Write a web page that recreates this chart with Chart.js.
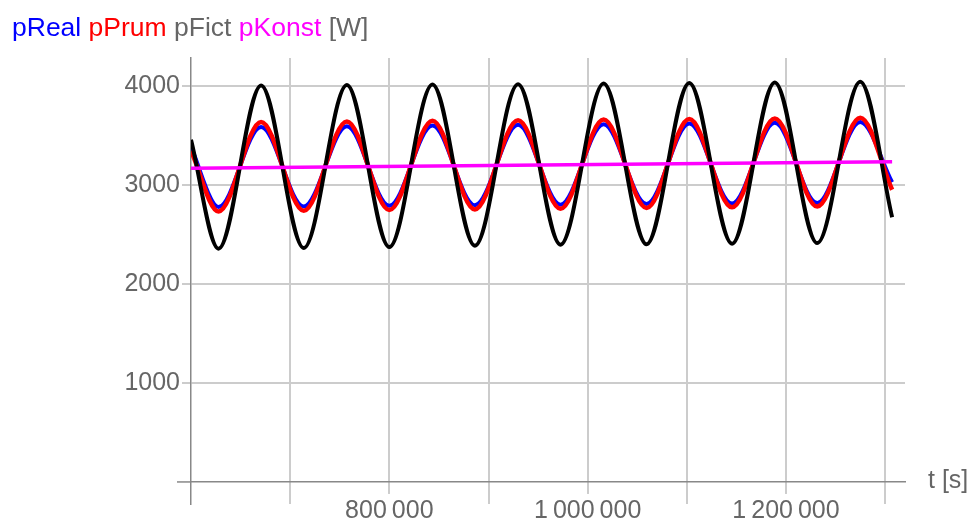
<!DOCTYPE html>
<html>
<head>
<meta charset="utf-8">
<script src="https://cdn.jsdelivr.net/npm/chart.js@4.4.0/dist/chart.umd.min.js"></script>
<style>
  html, body { margin: 0; padding: 0; background: #fff; }
  #wrap { width: 973px; height: 521px; }
</style>
</head>
<body>
<div id="wrap"><canvas id="powerChart" width="973" height="521"></canvas></div>
<script>
// time [s] of start, troughs/peaks and end
var tExt = [600000, 627800, 670700, 713700, 757200, 800000, 843500, 886300, 929800,
            972600, 1016100, 1059400, 1102500, 1145600, 1188700, 1231500, 1274900, 1307000];
var pReal  = [3385, 2780, 3590, 2786, 3597, 2792, 3604, 2798, 3611,
              2804, 3618, 2810, 3625, 2815, 3632, 2820, 3640, 3030];
var pPrum  = [3350, 2735, 3640, 2742, 3646, 2749, 3652, 2756, 3658,
              2763, 3664, 2770, 3670, 2777, 3676, 2785, 3684, 2955];
var pFict  = [3460, 2359, 4009, 2365, 4013, 2375, 4018, 2389, 4022,
              2399, 4028, 2403, 4033, 2409, 4040, 2415, 4047, 2677];
var tKonst = [600000, 1307000];
var pKonst = [3172, 3237];

var xTicks = [700000, 800000, 900000, 1000000, 1100000, 1200000, 1300000];
var xLabelTicks = [800000, 1000000, 1200000];
var yTicks = [1000, 2000, 3000, 4000];
var titleParts = ['pReal', 'pPrum', 'pFict', 'pKonst', '[W]'];
var xAxisTitle = 't [s]';

function toPoints(xs, ys) {
    return xs.map(function (x, i) { return { x: x, y: ys[i] }; });
}

function fmt(v) {
    return String(v).replace(/\B(?=(\d{3})+(?!\d))/g, '\u2009');
}

var FONT = '"Liberation Sans", Arial, sans-serif';
Chart.defaults.font.family = FONT;
Chart.defaults.font.size = 25;
Chart.defaults.color = '#666666';

var labelsPlugin = {
    id: 'labelsPlugin',
    afterDraw: function (chart) {
        var ctx = chart.ctx;
        var area = chart.chartArea;
        var colors = ['#0000ff', '#ff0000', '#666666', '#ff00ff', '#666666'];
        var y0 = chart.scales.y.getPixelForValue(0);
        ctx.save();
        // x axis sticks out a little left of the y axis
        ctx.strokeStyle = '#888888';
        ctx.lineWidth = 1.5;
        ctx.beginPath();
        ctx.moveTo(area.left - 14, y0);
        ctx.lineTo(area.left, y0);
        ctx.stroke();

        ctx.font = '26.5px ' + FONT;
        ctx.textBaseline = 'alphabetic';
        ctx.textAlign = 'left';
        var x = 12;
        titleParts.forEach(function (part, i) {
            ctx.fillStyle = colors[i];
            ctx.fillText(part, x, 36);
            x += ctx.measureText(part + ' ').width;
        });
        ctx.font = '25px ' + FONT;
        ctx.fillStyle = '#666666';
        ctx.fillText(xAxisTitle, area.right + 23, y0 + 6);
        ctx.restore();
    }
};

var ctx = document.getElementById('powerChart').getContext('2d');
var powerChart = new Chart(ctx, {
    type: 'line',
    data: {
        datasets: [{
            label: 'pReal',
            data: toPoints(tExt, pReal),
            borderColor: '#0000ff',
            borderWidth: 4,
            order: 4
        }, {
            label: 'pPrum',
            data: toPoints(tExt, pPrum),
            borderColor: '#ff0000',
            borderWidth: 4.5,
            order: 3
        }, {
            label: 'pFict',
            data: toPoints(tExt, pFict),
            borderColor: '#000000',
            borderWidth: 4,
            order: 2
        }, {
            label: 'pKonst',
            data: toPoints(tKonst, pKonst),
            borderColor: '#ff00ff',
            borderWidth: 3.5,
            order: 1
        }]
    },
    options: {
        responsive: false,
        animation: false,
        layout: { padding: { left: 0, right: 68, top: 58, bottom: 12 } },
        elements: {
            point: { radius: 0 },
            line: { cubicInterpolationMode: 'monotone', fill: false }
        },
        plugins: {
            legend: { display: false },
            tooltip: { enabled: false }
        },
        scales: {
            x: {
                type: 'linear',
                position: { y: 0 },
                min: 600000,
                max: 1320000,
                afterBuildTicks: function (s) {
                    s.ticks = xTicks.map(function (v) { return { value: v }; });
                },
                grid: { color: '#cccccc', lineWidth: 2, tickLength: 5, tickColor: '#cccccc' },
                border: { color: '#888888', width: 1.5 },
                ticks: {
                    maxRotation: 0,
                    autoSkip: false,
                    padding: 9,
                    color: '#666666',
                    showLabelBackdrop: function (c) { return xLabelTicks.indexOf(c.tick.value) >= 0; },
                    backdropColor: '#ffffff',
                    backdropPadding: 2,
                    callback: function (v) { return xLabelTicks.indexOf(v) >= 0 ? fmt(v) : ''; }
                }
            },
            y: {
                type: 'linear',
                position: 'left',
                min: -223,
                max: 4287,
                afterFit: function (s) { s.width = 191; },
                afterBuildTicks: function (s) {
                    s.ticks = yTicks.map(function (v) { return { value: v }; });
                },
                grid: { color: '#cccccc', lineWidth: 2, tickLength: 9, tickColor: '#cccccc' },
                border: { color: '#888888', width: 1.5 },
                ticks: { padding: 2, color: '#666666', callback: function (v) { return String(v); } }
            }
        }
    },
    plugins: [labelsPlugin]
});
</script>
</body>
</html>
